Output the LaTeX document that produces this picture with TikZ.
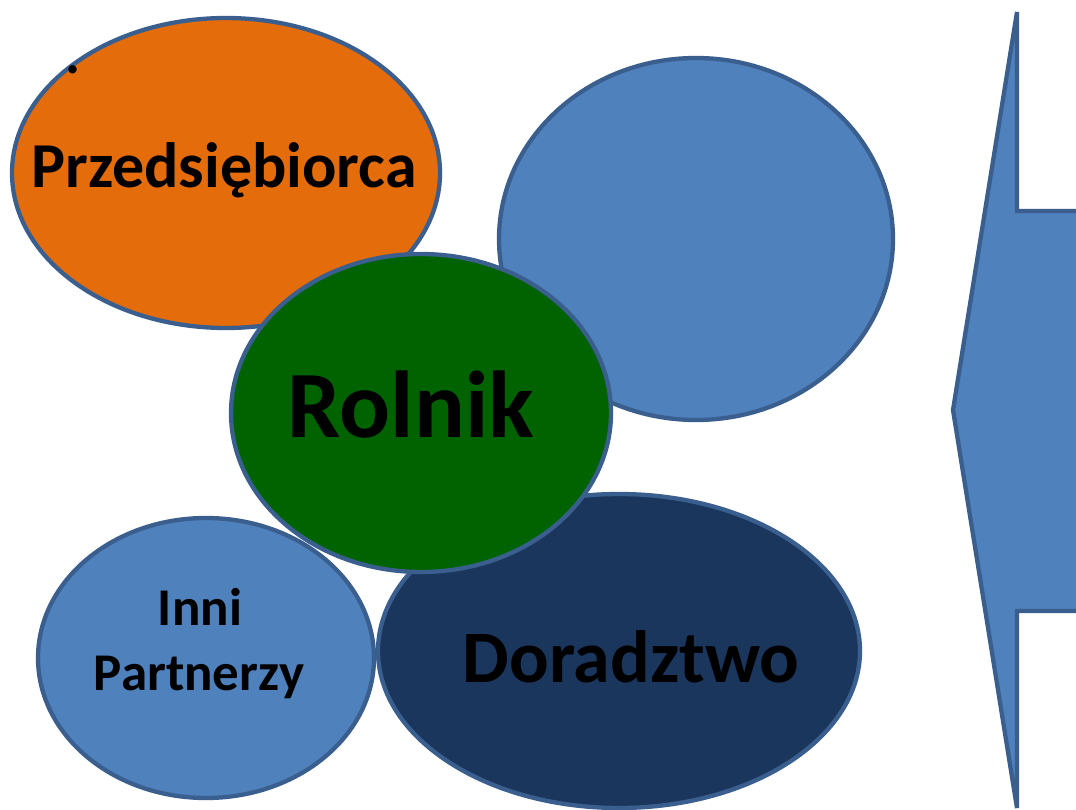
\documentclass[tikz,border=0pt]{standalone}
\usepackage{fontspec}
\setmainfont{Carlito}
\usetikzlibrary{shapes.geometric}
\definecolor{edgeblue}{HTML}{3A5F8F}
\definecolor{orangefill}{HTML}{E46C0A}
\definecolor{bluefill}{HTML}{4F81BD}
\definecolor{greenfill}{HTML}{006300}
\definecolor{navyfill}{HTML}{1A365D}
\tikzset{
  bubble/.style={ellipse, draw=edgeblue, line width=4.3pt, inner sep=0pt},
  label/.style={font=\bfseries, text=black, anchor=base, inner sep=0pt},
}
\begin{document}
\begin{tikzpicture}[x=1pt,y=-1pt]
\clip (0,0) rectangle (1076,810);
\fill[white] (0,0) rectangle (1076,810);
% right arrow shape
\draw[draw=edgeblue, fill=bluefill, line width=4.3pt, line join=miter]
  (1017,12) -- (1017,211) -- (1090,211) -- (1090,611) -- (1017,611) -- (1017,808) -- (953,410) -- cycle;
% bubbles
\node[bubble, fill=orangefill, minimum width=428pt, minimum height=310pt] (orange) at (226,173) {};
\node[bubble, fill=bluefill, minimum width=394pt, minimum height=362pt] (blue) at (696,239) {};
\node[bubble, fill=bluefill, minimum width=336pt, minimum height=280pt] (inni) at (206,658) {};
\node[bubble, fill=navyfill, minimum width=482pt, minimum height=314pt] (dor) at (619,651) {};
\node[bubble, fill=greenfill, minimum width=380pt, minimum height=318pt] (rolnik) at (421,413) {};
% texts
\node[label, font=\bfseries\fontsize{56}{56}\selectfont] (dot) at (73,74) {.};
\node[label, font=\bfseries\fontsize{64}{64}\selectfont] (tprz) at (224,188) {Przedsiębiorca};
\node[label, font=\bfseries\fontsize{95}{95}\selectfont] (trol) at (411,437) {Rolnik};
\node[label, font=\bfseries\fontsize{74}{74}\selectfont] (tdor) at (631,682) {Doradztwo};
\node[label, font=\bfseries\fontsize{53}{53}\selectfont] (tinni) at (200,625) {Inni};
\node[label, font=\bfseries\fontsize{53}{53}\selectfont] (tpart) at (199,690) {Partnerzy};
\end{tikzpicture}
\end{document}
